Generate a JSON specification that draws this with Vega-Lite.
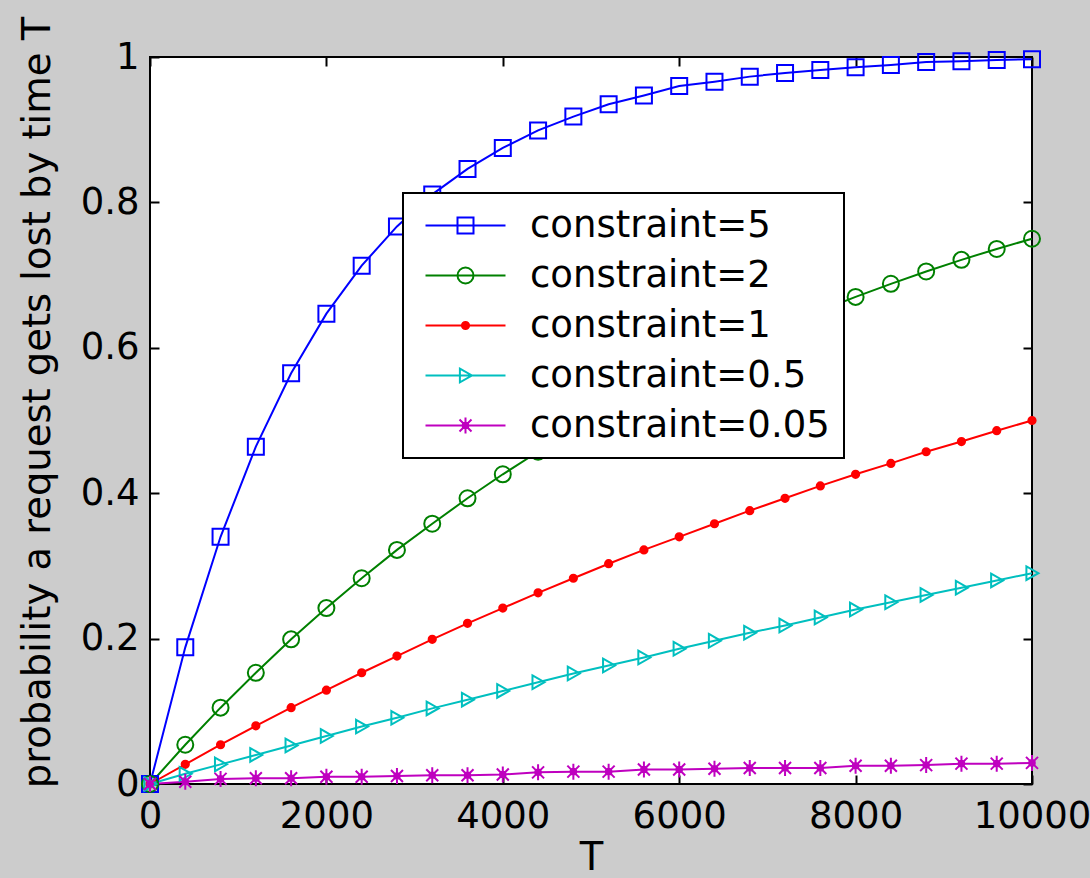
{
  "$schema": "https://vega.github.io/schema/vega-lite/v6.json",
  "autosize": {"type": "none"},
  "padding": {"left": 150, "top": 57, "right": 58, "bottom": 94},
  "width": 882,
  "height": 727,
  "background": "#cccccc",
  "config": {
    "view": {"fill": "white", "stroke": "black", "strokeWidth": 2},
    "font": "DejaVu Sans",
    "axis": {
      "grid": false, "domain": false, "tickColor": "black", "tickWidth": 2, "tickSize": -9,
      "labelColor": "black", "labelFont": "DejaVu Sans", "labelFontSize": 37,
      "titleColor": "black", "titleFont": "DejaVu Sans", "titleFontSize": 38.5, "titleFontWeight": "normal"
    }
  },
  "data": {"values": [
    {"T":0,"p":0,"s":"constraint=5"},{"T":400,"p":0.188,"s":"constraint=5"},{"T":800,"p":0.340,"s":"constraint=5"},{"T":1200,"p":0.464,"s":"constraint=5"},{"T":1600,"p":0.565,"s":"constraint=5"},{"T":2000,"p":0.647,"s":"constraint=5"},{"T":2400,"p":0.713,"s":"constraint=5"},{"T":2800,"p":0.767,"s":"constraint=5"},{"T":3200,"p":0.811,"s":"constraint=5"},{"T":3600,"p":0.846,"s":"constraint=5"},{"T":4000,"p":0.875,"s":"constraint=5"},{"T":4400,"p":0.899,"s":"constraint=5"},{"T":4800,"p":0.918,"s":"constraint=5"},{"T":5200,"p":0.935,"s":"constraint=5"},{"T":5600,"p":0.947,"s":"constraint=5"},{"T":6000,"p":0.960,"s":"constraint=5"},{"T":6400,"p":0.966,"s":"constraint=5"},{"T":6800,"p":0.973,"s":"constraint=5"},{"T":7200,"p":0.978,"s":"constraint=5"},{"T":7600,"p":0.982,"s":"constraint=5"},{"T":8000,"p":0.986,"s":"constraint=5"},{"T":8400,"p":0.989,"s":"constraint=5"},{"T":8800,"p":0.993,"s":"constraint=5"},{"T":9200,"p":0.994,"s":"constraint=5"},{"T":9600,"p":0.996,"s":"constraint=5"},{"T":10000,"p":0.997,"s":"constraint=5"},
    {"T":0,"p":0,"s":"constraint=2"},{"T":400,"p":0.054,"s":"constraint=2"},{"T":800,"p":0.105,"s":"constraint=2"},{"T":1200,"p":0.153,"s":"constraint=2"},{"T":1600,"p":0.199,"s":"constraint=2"},{"T":2000,"p":0.242,"s":"constraint=2"},{"T":2400,"p":0.283,"s":"constraint=2"},{"T":2800,"p":0.322,"s":"constraint=2"},{"T":3200,"p":0.358,"s":"constraint=2"},{"T":3600,"p":0.393,"s":"constraint=2"},{"T":4000,"p":0.426,"s":"constraint=2"},{"T":4400,"p":0.457,"s":"constraint=2"},{"T":4800,"p":0.486,"s":"constraint=2"},{"T":5200,"p":0.514,"s":"constraint=2"},{"T":5600,"p":0.540,"s":"constraint=2"},{"T":6000,"p":0.565,"s":"constraint=2"},{"T":6400,"p":0.588,"s":"constraint=2"},{"T":6800,"p":0.610,"s":"constraint=2"},{"T":7200,"p":0.631,"s":"constraint=2"},{"T":7600,"p":0.651,"s":"constraint=2"},{"T":8000,"p":0.670,"s":"constraint=2"},{"T":8400,"p":0.688,"s":"constraint=2"},{"T":8800,"p":0.705,"s":"constraint=2"},{"T":9200,"p":0.721,"s":"constraint=2"},{"T":9600,"p":0.736,"s":"constraint=2"},{"T":10000,"p":0.750,"s":"constraint=2"},
    {"T":0,"p":0,"s":"constraint=1"},{"T":400,"p":0.027,"s":"constraint=1"},{"T":800,"p":0.054,"s":"constraint=1"},{"T":1200,"p":0.080,"s":"constraint=1"},{"T":1600,"p":0.105,"s":"constraint=1"},{"T":2000,"p":0.129,"s":"constraint=1"},{"T":2400,"p":0.153,"s":"constraint=1"},{"T":2800,"p":0.176,"s":"constraint=1"},{"T":3200,"p":0.199,"s":"constraint=1"},{"T":3600,"p":0.221,"s":"constraint=1"},{"T":4000,"p":0.242,"s":"constraint=1"},{"T":4400,"p":0.263,"s":"constraint=1"},{"T":4800,"p":0.283,"s":"constraint=1"},{"T":5200,"p":0.303,"s":"constraint=1"},{"T":5600,"p":0.322,"s":"constraint=1"},{"T":6000,"p":0.340,"s":"constraint=1"},{"T":6400,"p":0.358,"s":"constraint=1"},{"T":6800,"p":0.376,"s":"constraint=1"},{"T":7200,"p":0.393,"s":"constraint=1"},{"T":7600,"p":0.410,"s":"constraint=1"},{"T":8000,"p":0.426,"s":"constraint=1"},{"T":8400,"p":0.441,"s":"constraint=1"},{"T":8800,"p":0.457,"s":"constraint=1"},{"T":9200,"p":0.471,"s":"constraint=1"},{"T":9600,"p":0.486,"s":"constraint=1"},{"T":10000,"p":0.500,"s":"constraint=1"},
    {"T":0,"p":0,"s":"constraint=0.5"},{"T":400,"p":0.014,"s":"constraint=0.5"},{"T":800,"p":0.027,"s":"constraint=0.5"},{"T":1200,"p":0.040,"s":"constraint=0.5"},{"T":1600,"p":0.053,"s":"constraint=0.5"},{"T":2000,"p":0.066,"s":"constraint=0.5"},{"T":2400,"p":0.079,"s":"constraint=0.5"},{"T":2800,"p":0.091,"s":"constraint=0.5"},{"T":3200,"p":0.104,"s":"constraint=0.5"},{"T":3600,"p":0.116,"s":"constraint=0.5"},{"T":4000,"p":0.128,"s":"constraint=0.5"},{"T":4400,"p":0.140,"s":"constraint=0.5"},{"T":4800,"p":0.152,"s":"constraint=0.5"},{"T":5200,"p":0.163,"s":"constraint=0.5"},{"T":5600,"p":0.174,"s":"constraint=0.5"},{"T":6000,"p":0.186,"s":"constraint=0.5"},{"T":6400,"p":0.197,"s":"constraint=0.5"},{"T":6800,"p":0.208,"s":"constraint=0.5"},{"T":7200,"p":0.218,"s":"constraint=0.5"},{"T":7600,"p":0.229,"s":"constraint=0.5"},{"T":8000,"p":0.240,"s":"constraint=0.5"},{"T":8400,"p":0.250,"s":"constraint=0.5"},{"T":8800,"p":0.260,"s":"constraint=0.5"},{"T":9200,"p":0.270,"s":"constraint=0.5"},{"T":9600,"p":0.280,"s":"constraint=0.5"},{"T":10000,"p":0.290,"s":"constraint=0.5"},
    {"T":0,"p":0,"s":"constraint=0.05"},{"T":400,"p":0.003,"s":"constraint=0.05"},{"T":800,"p":0.007,"s":"constraint=0.05"},{"T":1200,"p":0.008,"s":"constraint=0.05"},{"T":1600,"p":0.008,"s":"constraint=0.05"},{"T":2000,"p":0.010,"s":"constraint=0.05"},{"T":2400,"p":0.010,"s":"constraint=0.05"},{"T":2800,"p":0.011,"s":"constraint=0.05"},{"T":3200,"p":0.012,"s":"constraint=0.05"},{"T":3600,"p":0.012,"s":"constraint=0.05"},{"T":4000,"p":0.013,"s":"constraint=0.05"},{"T":4400,"p":0.016,"s":"constraint=0.05"},{"T":4800,"p":0.017,"s":"constraint=0.05"},{"T":5200,"p":0.017,"s":"constraint=0.05"},{"T":5600,"p":0.020,"s":"constraint=0.05"},{"T":6000,"p":0.020,"s":"constraint=0.05"},{"T":6400,"p":0.021,"s":"constraint=0.05"},{"T":6800,"p":0.022,"s":"constraint=0.05"},{"T":7200,"p":0.022,"s":"constraint=0.05"},{"T":7600,"p":0.022,"s":"constraint=0.05"},{"T":8000,"p":0.025,"s":"constraint=0.05"},{"T":8400,"p":0.025,"s":"constraint=0.05"},{"T":8800,"p":0.026,"s":"constraint=0.05"},{"T":9200,"p":0.028,"s":"constraint=0.05"},{"T":9600,"p":0.028,"s":"constraint=0.05"},{"T":10000,"p":0.029,"s":"constraint=0.05"}
  ]},
  "layer": [
    {
      "mark": {"type": "line", "strokeWidth": 2, "clip": false},
      "encoding": {
        "x": {"field": "T", "type": "quantitative", "scale": {"domain": [0, 10000], "nice": false},
              "axis": {"values": [0, 2000, 4000, 6000, 8000, 10000], "format": "d", "title": "T", "labelPadding": 23, "titlePadding": 5, "labelFlush": false}},
        "y": {"field": "p", "type": "quantitative", "scale": {"domain": [0, 1], "nice": false, "zero": true},
              "axis": {"values": [0, 0.2, 0.4, 0.6, 0.8, 1], "format": ".1~f", "title": "probability a request gets lost by time T", "labelPadding": 20, "titlePadding": 23, "titleY": 345, "labelFlush": false}},
        "color": {"field": "s", "type": "nominal",
          "scale": {"domain": ["constraint=5", "constraint=2", "constraint=1", "constraint=0.5", "constraint=0.05"],
                    "range": ["#0000ff", "#008000", "#ff0000", "#00bfbf", "#bf00bf"]},
          "legend": {
            "title": null, "orient": "none", "legendX": 253, "legendY": 136,
            "fillColor": "white", "strokeColor": "black", "padding": 14,
            "labelFont": "DejaVu Sans", "labelFontSize": 37, "labelColor": "black", "labelLimit": 500,
            "symbolSize": 256, "symbolOffset": 30, "labelOffset": 46, "rowPadding": 12, "symbolStrokeWidth": 2,
            "encode": {
              "legend": {"update": {"strokeWidth": {"value": 2}}},
              "symbols": {"update": {
                "shape": {"signal": "datum.value === 'constraint=5' ? 'M-5,0H5M-1,-1H1V1H-1Z' : datum.value === 'constraint=2' ? 'M-5,0H5M-1,0A1,1 0 1,0 1,0A1,1 0 1,0 -1,0' : datum.value === 'constraint=1' ? 'M-5,0H5M-0.45,0A0.45,0.45 0 1,0 0.45,0A0.45,0.45 0 1,0 -0.45,0' : datum.value === 'constraint=0.5' ? 'M-5,0H5M-0.7,-0.85L0.8,0L-0.7,0.85Z' : 'M-5,0H5M0,-1V1M-0.75,-0.75L0.75,0.75M-0.75,0.75L0.75,-0.75M-0.35,0A0.35,0.35 0 1,0 0.35,0A0.35,0.35 0 1,0 -0.35,0'"},
                "fill": {"signal": "datum.value === 'constraint=1' ? '#ff0000' : datum.value === 'constraint=0.05' ? '#bf00bf' : 'transparent'"},
                "size": {"value": 256},
                "strokeWidth": {"value": 2},
                "opacity": {"value": 1}
              }}
            }
          }
        }
      }
    },
    {
      "mark": {"type": "point", "filled": false, "strokeWidth": 2, "size": 256, "opacity": 1, "clip": false},
      "encoding": {
        "x": {"field": "T", "type": "quantitative", "axis": {"orient": "top", "values": [0, 2000, 4000, 6000, 8000, 10000], "labels": false, "title": null}},
        "y": {"field": "p", "type": "quantitative", "axis": {"orient": "right", "values": [0, 0.2, 0.4, 0.6, 0.8, 1], "labels": false, "title": null}},
        "stroke": {"field": "s", "type": "nominal", "legend": null,
          "scale": {"domain": ["constraint=0.05", "constraint=0.5", "constraint=1", "constraint=2", "constraint=5"],
                    "range": ["#bf00bf", "#00bfbf", "#ff0000", "#008000", "#0000ff"]}},
        "fill": {"field": "s", "type": "nominal", "legend": null,
          "scale": {"domain": ["constraint=0.05", "constraint=0.5", "constraint=1", "constraint=2", "constraint=5"],
                    "range": ["#bf00bf", "transparent", "#ff0000", "transparent", "transparent"]}},
        "shape": {"field": "s", "type": "nominal", "legend": null,
          "scale": {"domain": ["constraint=0.05", "constraint=0.5", "constraint=1", "constraint=2", "constraint=5"],
                    "range": ["M0,-1V1M-0.75,-0.75L0.75,0.75M-0.75,0.75L0.75,-0.75M-0.35,0A0.35,0.35 0 1,0 0.35,0A0.35,0.35 0 1,0 -0.35,0", "M-0.7,-0.85L0.8,0L-0.7,0.85Z", "M-0.45,0A0.45,0.45 0 1,0 0.45,0A0.45,0.45 0 1,0 -0.45,0", "M-1,0A1,1 0 1,0 1,0A1,1 0 1,0 -1,0", "M-1,-1H1V1H-1Z"]}}
      }
    }
  ],
  "resolve": {"axis": {"x": "independent", "y": "independent"}}
}
